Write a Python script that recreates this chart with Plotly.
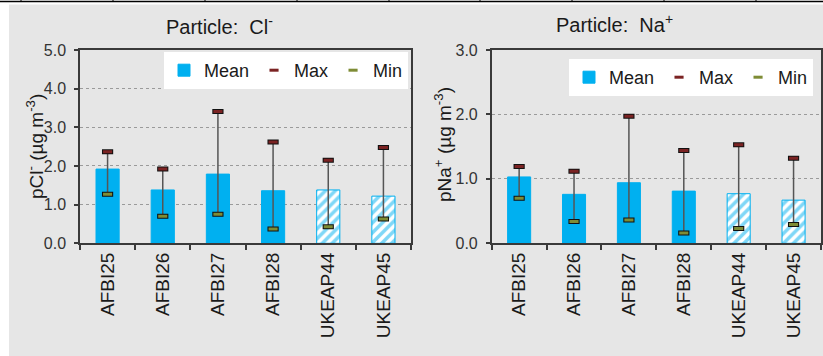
import plotly.graph_objects as go

W, H = 823, 356

sites = ["AFBI25", "AFBI26", "AFBI27", "AFBI28", "UKEAP44", "UKEAP45"]
hatched = ["", "", "", "", "/", "/"]

cl_mean = [1.92, 1.38, 1.79, 1.36, 1.38, 1.22]
cl_max = [2.37, 1.92, 3.41, 2.62, 2.15, 2.48]
cl_min = [1.27, 0.70, 0.75, 0.37, 0.43, 0.63]

na_mean = [1.03, 0.76, 0.94, 0.81, 0.77, 0.67]
na_max = [1.19, 1.12, 1.97, 1.44, 1.53, 1.32]
na_min = [0.70, 0.34, 0.36, 0.16, 0.23, 0.29]

BLUE = "#00B0F0"
MAXC = "#7B2323"
MINC = "#7E8C35"
WHISK = "#555555"
FONT = "Liberation Sans, Arial, sans-serif"
TXT = "#1a1a1a"

fig = go.Figure()


def px_x(p):
    return p / W


def px_y(p):
    return 1 - p / H


def add_panel(mean, mx, mn, xa, ya, legend):
    fig.add_trace(go.Bar(
        x=sites, y=mean, name="Mean", width=0.42,
        marker=dict(color=BLUE, line=dict(color=BLUE, width=1),
                    pattern=dict(shape=hatched, bgcolor="white", fgcolor=BLUE,
                                 size=7, solidity=0.5)),
        xaxis=xa, yaxis=ya, legend=legend, showlegend=True,
    ))
    # whisker (min to max) + black outline of max cap
    fig.add_trace(go.Scatter(
        x=sites, y=mx, mode="markers",
        marker=dict(symbol="line-ew", size=8, line=dict(color="#111111", width=5)),
        error_y=dict(type="data", symmetric=False,
                     array=[0] * len(mx),
                     arrayminus=[a - b for a, b in zip(mx, mn)],
                     color=WHISK, thickness=1.5, width=0),
        xaxis=xa, yaxis=ya, legend=legend, showlegend=False, hoverinfo="skip",
    ))
    fig.add_trace(go.Scatter(
        x=sites, y=mx, mode="markers", name="Max",
        marker=dict(symbol="line-ew", size=6.5, line=dict(color=MAXC, width=3)),
        xaxis=xa, yaxis=ya, legend=legend,
    ))
    fig.add_trace(go.Scatter(
        x=sites, y=mn, mode="markers",
        marker=dict(symbol="line-ew", size=8, line=dict(color="#111111", width=5)),
        xaxis=xa, yaxis=ya, legend=legend, showlegend=False, hoverinfo="skip",
    ))
    fig.add_trace(go.Scatter(
        x=sites, y=mn, mode="markers", name="Min",
        marker=dict(symbol="line-ew", size=6.5, line=dict(color=MINC, width=3)),
        xaxis=xa, yaxis=ya, legend=legend,
    ))


add_panel(cl_mean, cl_max, cl_min, "x", "y", "legend")
add_panel(na_mean, na_max, na_min, "x2", "y2", "legend2")

ydom = [px_y(243.3), px_y(50)]
axis_common = dict(showline=True, linecolor="#3a3a3a", linewidth=1.5, mirror=True,
                   automargin=False)

xcommon = dict(type="category", tickangle=-90, ticks="outside", ticklen=5,
               tickwidth=1.5, tickcolor="#3a3a3a", tickson="boundaries",
               tickfont=dict(size=19, color=TXT, family=FONT),
               showgrid=False, **axis_common)
ycommon = dict(ticks="outside", ticklen=4, tickwidth=1.5, tickcolor="#3a3a3a",
               tickformat=".1f", dtick=1, showgrid=True, gridcolor="#9a9a9a",
               griddash="dot", gridwidth=1, zeroline=False,
               tickfont=dict(size=16, color="#333333", family=FONT),
               ticklabelstandoff=5, **axis_common)

fig.update_layout(
    width=W, height=H,
    margin=dict(l=0, r=0, t=0, b=0, autoexpand=False),
    paper_bgcolor="#e6e6e6", plot_bgcolor="#e6e6e6",
    font=dict(family=FONT, color=TXT),
    xaxis=dict(domain=[px_x(80), px_x(411)], anchor="y", **xcommon),
    xaxis2=dict(domain=[px_x(491.7), px_x(821)], anchor="y2", **xcommon),
    yaxis=dict(domain=ydom, anchor="x", range=[0, 5], **ycommon),
    yaxis2=dict(domain=ydom, anchor="x2", range=[0, 3], **ycommon),
    legend=dict(orientation="h", x=px_x(408), xanchor="right", y=px_y(52),
                yanchor="top", bgcolor="white", borderwidth=0,
                font=dict(size=18, family=FONT, color=TXT),
                itemwidth=30, traceorder="normal"),
    legend2=dict(orientation="h", x=px_x(813), xanchor="right", y=px_y(59),
                 yanchor="top", bgcolor="white", borderwidth=0,
                 font=dict(size=18, family=FONT, color=TXT),
                 itemwidth=30, traceorder="normal"),
    annotations=[
        dict(text="Particle:\u00a0 Cl<sup>-</sup>", x=px_x(219), y=px_y(25),
             xref="paper", yref="paper", showarrow=False,
             xanchor="center", yanchor="middle",
             font=dict(size=20, family=FONT, color=TXT)),
        dict(text="Particle:\u00a0 Na<sup>+</sup>", x=px_x(614), y=px_y(24),
             xref="paper", yref="paper", showarrow=False,
             xanchor="center", yanchor="middle",
             font=dict(size=20, family=FONT, color=TXT)),
        dict(text="pCl<sup>-</sup> (µg m<sup>-3</sup>)", x=px_x(35), y=px_y(147),
             xref="paper", yref="paper", showarrow=False, textangle=-90,
             xanchor="center", yanchor="middle",
             font=dict(size=19, family=FONT, color=TXT)),
        dict(text="pNa<sup>+</sup> (µg m<sup>-3</sup>)", x=px_x(443), y=px_y(145),
             xref="paper", yref="paper", showarrow=False, textangle=-90,
             xanchor="center", yanchor="middle",
             font=dict(size=19, family=FONT, color=TXT)),
    ],
    shapes=[
        dict(type="rect", xref="paper", yref="paper", x0=0, x1=px_x(9), y0=0, y1=1,
             fillcolor="white", line=dict(width=0), layer="above"),
        dict(type="rect", xref="paper", yref="paper", x0=0, x1=1, y0=px_y(4.5), y1=1,
             fillcolor="white", line=dict(width=0), layer="above"),
        dict(type="line", xref="paper", yref="paper", x0=0, x1=1, y0=px_y(1.5), y1=px_y(1.5),
             line=dict(color="black", width=1.5), layer="above"),
    ] + [
        dict(type="line", xref="paper", yref="paper", x0=px_x(t), x1=px_x(t),
             y0=px_y(0), y1=px_y(2), line=dict(color="black", width=1), layer="above")
        for t in [21, 113, 205, 297, 389, 480, 572, 664, 756]
    ],
)

fig.write_html("out.html", config={"displayModeBar": False},
               post_script="document.body.style.margin='0';document.body.style.overflow='hidden';")
